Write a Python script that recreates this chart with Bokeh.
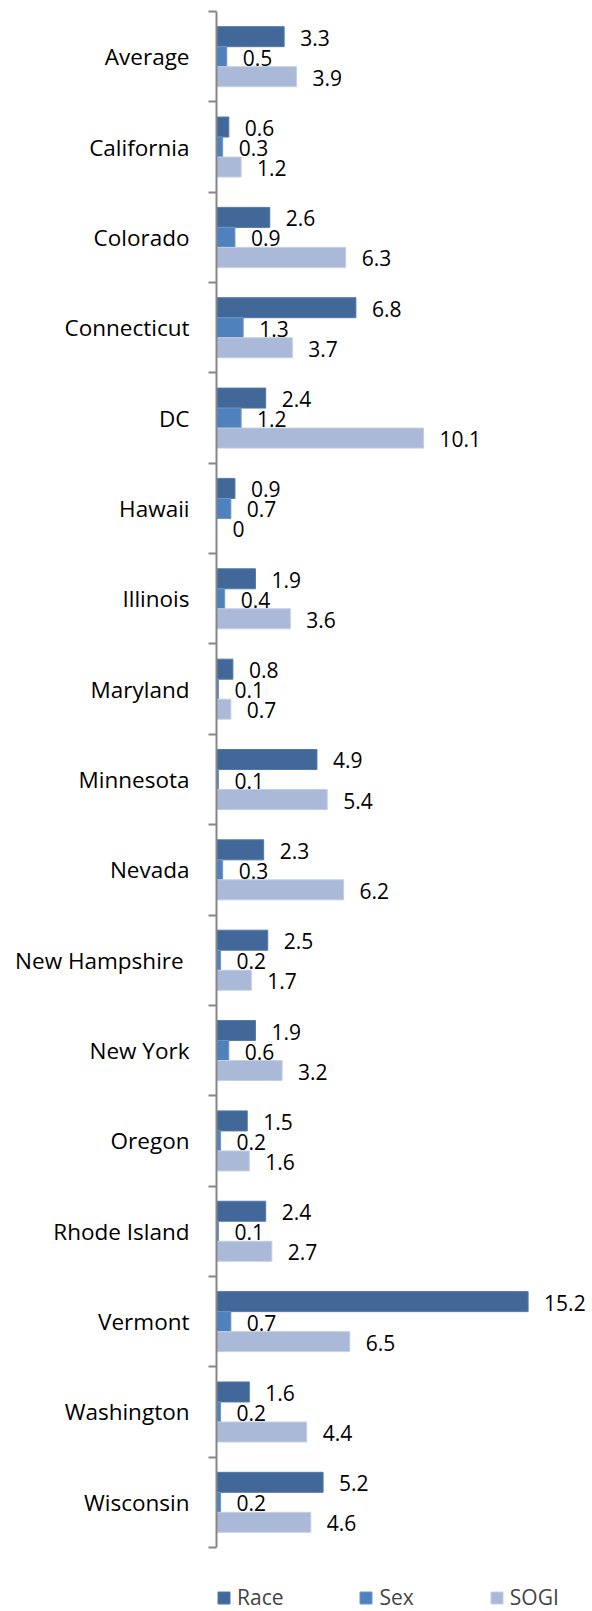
from bokeh.plotting import figure
from bokeh.models import Range1d, FixedTicker, Legend, LegendItem, ColumnDataSource
from bokeh.layouts import column
from bokeh.core.properties import value
from bokeh.embed import file_html
from bokeh.resources import INLINE

categories = ["Average", "California", "Colorado", "Connecticut", "DC", "Hawaii",
              "Illinois", "Maryland", "Minnesota", "Nevada", "New Hampshire ",
              "New York", "Oregon", "Rhode Island", "Vermont", "Washington", "Wisconsin"]
race = [3.3, 0.6, 2.6, 6.8, 2.4, 0.9, 1.9, 0.8, 4.9, 2.3, 2.5, 1.9, 1.5, 2.4, 15.2, 1.6, 5.2]
sex = [0.5, 0.3, 0.9, 1.3, 1.2, 0.7, 0.4, 0.1, 0.1, 0.3, 0.2, 0.6, 0.2, 0.1, 0.7, 0.2, 0.2]
sogi = [3.9, 1.2, 6.3, 3.7, 10.1, 0, 3.6, 0.7, 5.4, 6.2, 1.7, 3.2, 1.6, 2.7, 6.5, 4.4, 4.6]
series_names = ["Race", "Sex", "SOGI"]
colors = ["#416899", "#4F81BD", "#AAB9D8"]
edge_colors = ["#5578A8", "#6E95C8", "#C3CEE4"]

n = len(categories)
centers = [n - 1 - i for i in range(n)]
boundaries = [k - 0.5 for k in range(n + 1)]

FONT = "Open Sans"

p = figure(width=592, height=1550, output_backend="svg", toolbar_location=None,
           x_range=Range1d(0, 18), y_range=Range1d(-0.5, n - 0.5),
           x_axis_location=None, tools="")
p.min_border_left = 216
p.min_border_right = 7
p.min_border_top = 11
p.min_border_bottom = 3
p.outline_line_color = None
p.xgrid.grid_line_color = None
p.ygrid.grid_line_color = None
p.background_fill_color = "white"
p.border_fill_color = "white"

yax = p.yaxis[0]
yax.ticker = FixedTicker(ticks=centers, minor_ticks=boundaries)
yax.major_label_overrides = {c: categories[i] for i, c in enumerate(centers)}
yax.major_tick_out = 0
yax.major_tick_in = 0
yax.minor_tick_out = 8
yax.minor_tick_in = 0
yax.minor_tick_line_color = "#868686"
yax.minor_tick_line_width = 2
yax.axis_line_color = "#868686"
yax.axis_line_width = 2
yax.major_label_standoff = 19
yax.major_label_text_font = FONT
yax.major_label_text_font_size = "22.5px"
yax.major_label_text_color = "black"

bar_h = 0.2214
offsets = [bar_h, 0.0, -bar_h]
values = [race, sex, sogi]

# legend strip below the chart
pl = figure(width=592, height=61, output_backend="svg", toolbar_location=None,
            x_range=Range1d(0, 1), y_range=Range1d(0, 1),
            x_axis_location=None, y_axis_location=None, tools="")
pl.min_border_left = 30
pl.min_border_right = 0
pl.min_border_top = 0
pl.min_border_bottom = 0
pl.outline_line_color = None
pl.xgrid.grid_line_color = None
pl.ygrid.grid_line_color = None

legend_items = []
for name, vals, off, col, ecol in zip(series_names, values, offsets, colors, edge_colors):
    src = ColumnDataSource(dict(y=[c + off for c in centers], v=vals,
                                lab=[("%g" % v) for v in vals]))
    p.hbar(y="y", right="v", left=0, height=bar_h, source=src,
           fill_color=col, line_color=ecol, line_width=1)
    p.text(x="v", y="y", text="lab", source=src, x_offset=16, y_offset=1,
           text_baseline="middle", text_align="left",
           text_font=value(FONT), text_font_size="21px", text_color="black")
    # legend key only (placed outside the strip's visible range)
    lr = pl.hbar(y=[-5], right=[0.5], left=0, height=0.1,
                 fill_color=col, line_color=ecol, line_width=1)
    legend_items.append(LegendItem(label=name, renderers=[lr]))

legend = Legend(items=legend_items, orientation="horizontal",
                location="bottom_left", padding=0, margin=0, spacing=75,
                glyph_width=15, glyph_height=15, label_standoff=6,
                label_text_font=FONT, label_text_font_size="21px",
                border_line_color=None, background_fill_alpha=0)
pl.add_layout(legend, "center")

layout = column(p, pl, spacing=0)
open("out.html", "w").write(file_html(layout, INLINE))
